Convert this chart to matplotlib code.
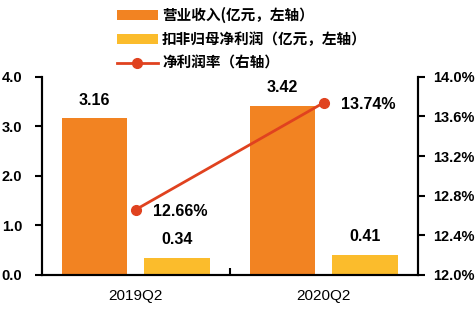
import numpy as np
import matplotlib.pyplot as plt
from matplotlib.ticker import FuncFormatter

plt.rcParams['font.family'] = ['Liberation Sans', 'Noto Sans CJK SC', 'DejaVu Sans']
plt.rcParams['font.weight'] = 'bold'

quarters = ['2019Q2', '2020Q2']
revenue = [3.16, 3.42]          # 营业收入, 亿元
net_profit_adj = [0.34, 0.41]   # 扣非归母净利润, 亿元
net_margin = [12.66, 13.74]     # 净利润率, %

c_rev = '#F28322'
c_adj = '#FBBC2C'
c_line = '#E0421F'

fig = plt.figure(figsize=(4.76, 3.23), dpi=100)
ax = fig.add_axes([0.088, 0.149, 0.79, 0.613])
ax2 = ax.twinx()

x = np.arange(len(quarters))
w = 0.35
b1 = ax.bar(x - 0.22, revenue, w, color=c_rev, label='营业收入(亿元，左轴）')
b2 = ax.bar(x + 0.22, net_profit_adj, w, color=c_adj, label='扣非归母净利润（亿元，左轴）')
for xi, v in zip(x - 0.22, revenue):
    ax.text(xi, v + 0.22, f'{v:.2f}', ha='center', va='bottom', fontsize=11.5)
for xi, v in zip(x + 0.22, net_profit_adj):
    ax.text(xi, v + 0.22, f'{v:.2f}', ha='center', va='bottom', fontsize=11.5)

ln, = ax2.plot(x, net_margin, color=c_line, lw=2, marker='o', ms=7,
               label='净利润率（右轴）')
for xi, v in zip(x, net_margin):
    ax2.text(xi + 0.09, v - 0.02, f'{v:.2f}%', ha='left', va='center', fontsize=11.5)

ax.set_xlim(-0.5, 1.5)
ax.set_ylim(0, 4)
ax.set_yticks(np.arange(0, 4.01, 1.0))
ax.yaxis.set_major_formatter(FuncFormatter(lambda v, p: f'{v:.1f}'))
ax2.set_ylim(12, 14)
ax2.set_yticks(np.arange(12, 14.01, 0.4))
ax2.yaxis.set_major_formatter(FuncFormatter(lambda v, p: f'{v:.1f}%'))

ax.set_xticks(x)
ax.set_xticklabels(quarters, fontsize=11, fontweight='normal')
ax.set_xticks([0.5], minor=True)
ax.tick_params(axis='x', which='major', length=0, pad=10)
ax.tick_params(axis='x', which='minor', direction='in', length=5, width=1.5)
ax.tick_params(axis='y', direction='out', length=5, width=1.5, labelsize=10.5, pad=9)
ax2.tick_params(axis='y', direction='out', length=5, width=1.5, labelsize=10.5, pad=6)

for a in (ax, ax2):
    a.spines['top'].set_visible(False)
    for s in ('left', 'right', 'bottom'):
        a.spines[s].set_linewidth(1.5)

fig.legend(handles=[b1, b2, ln], loc='upper center', bbox_to_anchor=(0.508, 1.02),
           frameon=False, handlelength=2.8, handletextpad=0.3, labelspacing=0.55,
           prop={'family': ['Noto Sans CJK SC', 'DejaVu Sans'], 'weight': 'bold', 'size': 10.5})

fig.savefig('out.png', dpi=100)
